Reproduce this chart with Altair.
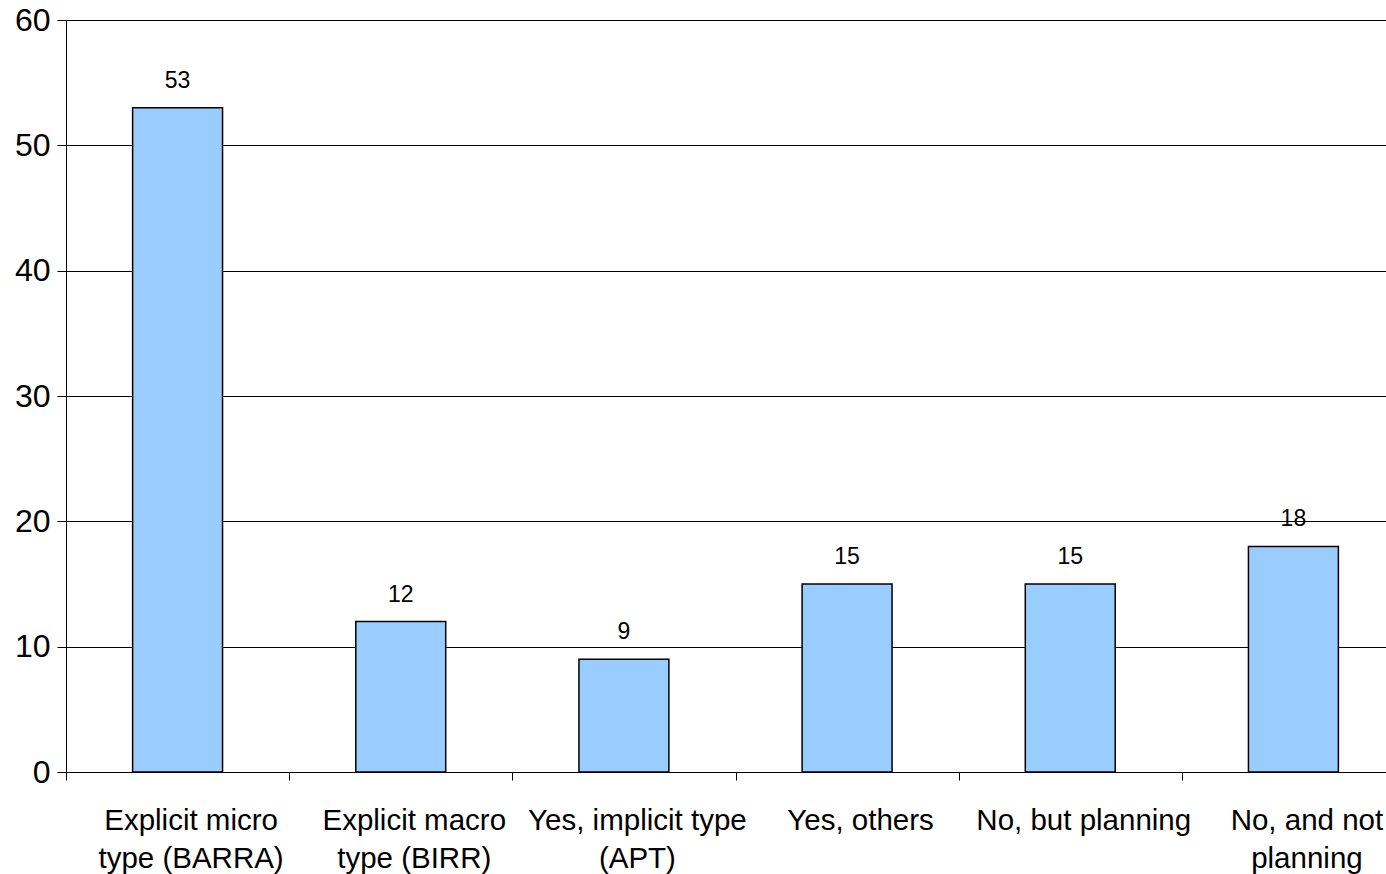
import altair as alt
import pandas as pd

# Survey responses per risk-model category
categories = [
    "Explicit micro|type (BARRA)",
    "Explicit macro|type (BIRR)",
    "Yes, implicit type|(APT)",
    "Yes, others",
    "No, but planning",
    "No, and not|planning",
]
counts = [53, 12, 9, 15, 15, 18]

df = pd.DataFrame({"category": categories, "count": counts})

FONT = "Liberation Sans"

x = alt.X(
    "category:N",
    sort=categories,
    title=None,
    scale=alt.Scale(range=[0, 1339], paddingInner=0, paddingOuter=0),
    axis=alt.Axis(
        labelAngle=0,
        labelExpr="split(datum.label, '|')",
        labelFont=FONT,
        labelFontSize=29.5,
        labelLineHeight=38,
        labelColor="black",
        labelPadding=26,
        labelOffset=13,
        labelLimit=0,
        tickBand="extent",
        tickSize=8,
        tickColor="black",
        domainColor="black",
        domainWidth=1,
        grid=False,
    ),
)

y = alt.Y(
    "count:Q",
    title=None,
    scale=alt.Scale(domain=[0, 60], nice=False),
    axis=alt.Axis(
        values=[0, 10, 20, 30, 40, 50, 60],
        labelFont=FONT,
        labelFontSize=32,
        labelColor="black",
        labelPadding=7,
        tickSize=9,
        tickColor="black",
        domainColor="black",
        grid=True,
        gridColor="black",
        gridWidth=1,
        gridOpacity=1,
    ),
)

bars = alt.Chart(df).mark_bar(
    color="#99CCFF",
    stroke="black",
    strokeWidth=1.5,
    width=alt.RelativeBandSize(0.403),
).encode(x=x, y=y)

labels = alt.Chart(df).mark_text(
    font=FONT, fontSize=23, color="black", baseline="alphabetic", dy=-20
).encode(x=x, y=y, text="count:Q")

chart = (
    alt.layer(bars, labels)
    .properties(
        width=1320,
        height=752,
        autosize=alt.AutoSizeParams(type="none"),
        padding={"left": 66, "top": 20, "right": 0, "bottom": 102},
        background="white",
    )
    .configure_view(stroke=None)
)

chart.save("out.html", embed_options={"renderer": "svg", "actions": False})
